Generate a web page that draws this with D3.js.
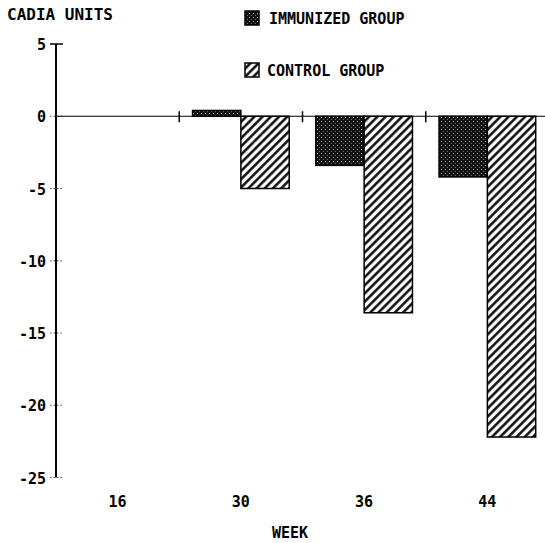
<!DOCTYPE html>
<html>
<head>
<meta charset="utf-8">
<script src="https://cdn.jsdelivr.net/npm/d3@7"></script>
<style>
  html, body { margin: 0; padding: 0; background: #fff; }
  svg text { font-family: "DejaVu Sans Mono", "Liberation Mono", monospace; font-weight: bold; fill: #000; }
</style>
</head>
<body>
<svg id="chart" width="545" height="543"></svg>
<script>
// Week groups and the change in CADIA units for each group
const weeks = ["16", "30", "36", "44"];
const immunized = [null, 0.4, -3.4, -4.2];
const control = [null, -5.0, -13.6, -22.2];
const seriesNames = ["IMMUNIZED GROUP", "CONTROL GROUP"];
const yTicks = [5, 0, -5, -10, -15, -20, -25];

const svg = d3.select("#chart");

// Fill patterns: dark stipple and diagonal hatching
const defs = svg.append("defs");
const stip = defs.append("pattern")
  .attr("id", "stipple").attr("patternUnits", "userSpaceOnUse")
  .attr("width", 4).attr("height", 4);
stip.append("rect").attr("width", 4).attr("height", 4).attr("fill", "#111");
stip.append("rect").attr("x", 1).attr("y", 1).attr("width", 1).attr("height", 1).attr("fill", "#bbb");
stip.append("rect").attr("x", 3).attr("y", 3).attr("width", 1).attr("height", 1).attr("fill", "#777");

const hatch = defs.append("pattern")
  .attr("id", "hatch").attr("patternUnits", "userSpaceOnUse")
  .attr("width", 5.8).attr("height", 10)
  .attr("patternTransform", "rotate(45)");
hatch.append("rect").attr("width", 5.8).attr("height", 10).attr("fill", "#fff");
hatch.append("line").attr("x1", 1.4).attr("x2", 1.4).attr("y1", 0).attr("y2", 10)
  .attr("stroke", "#000").attr("stroke-width", 2.4);

const fills = ["url(#stipple)", "url(#hatch)"];

// Scales
const y = d3.scaleLinear().domain([5, -25]).range([44, 477.5]);
const x0 = d3.scaleBand().domain(weeks).range([56, 549]).padding(0);
const x1 = d3.scaleBand().domain([0, 1]).range([13.3, x0.bandwidth() - 13.3]).padding(0);

// Title
svg.append("text").attr("x", 7).attr("y", 20).attr("font-size", 16).text("CADIA UNITS");

// Y axis line
svg.append("line").attr("x1", 56).attr("x2", 56).attr("y1", y(5)).attr("y2", y(-25))
  .attr("stroke", "#000").attr("stroke-width", 2);

// Y ticks and labels
const yAxis = svg.append("g");
yAxis.selectAll("line.tick").data(yTicks).join("line")
  .attr("class", "tick")
  .attr("x1", 50).attr("x2", 63)
  .attr("y1", d => y(d)).attr("y2", d => y(d))
  .attr("stroke", d => d === 5 ? "#000" : "#555")
  .attr("stroke-width", d => d === 5 ? 1.5 : 1)
  .attr("stroke-dasharray", d => d === 5 ? null : "1.5,2");
yAxis.selectAll("text").data(yTicks).join("text")
  .attr("x", 46).attr("y", d => y(d) + 6)
  .attr("text-anchor", "end").attr("font-size", 15)
  .text(d => d);

// Zero baseline with group separator ticks
svg.append("line").attr("x1", 56).attr("x2", 545).attr("y1", y(0)).attr("y2", y(0))
  .attr("stroke", "#000").attr("stroke-width", 1.2);
svg.selectAll("line.sep").data(weeks.slice(1)).join("line")
  .attr("class", "sep")
  .attr("x1", d => x0(d)).attr("x2", d => x0(d))
  .attr("y1", y(0) - 5).attr("y2", y(0) + 6)
  .attr("stroke", "#000").attr("stroke-width", 1.5);

// Bars
const rows = [];
weeks.forEach((w, i) => {
  [immunized[i], control[i]].forEach((v, s) => {
    if (v !== null) rows.push({ week: w, s, v });
  });
});
svg.selectAll("rect.bar").data(rows).join("rect")
  .attr("class", "bar")
  .attr("x", d => x0(d.week) + x1(d.s))
  .attr("width", x1.bandwidth())
  .attr("y", d => Math.min(y(0), y(d.v)))
  .attr("height", d => Math.abs(y(d.v) - y(0)))
  .attr("fill", d => fills[d.s])
  .attr("stroke", "#000").attr("stroke-width", 1.5);

// X labels
svg.selectAll("text.xl").data(weeks).join("text")
  .attr("class", "xl")
  .attr("x", d => x0(d) + x0.bandwidth() / 2)
  .attr("y", 507).attr("text-anchor", "middle").attr("font-size", 15)
  .text(d => d);
svg.append("text").attr("x", 290).attr("y", 538).attr("text-anchor", "middle")
  .attr("font-size", 15).text("WEEK");

// Legend
const legend = svg.append("g");
const legY = [11, 63];
seriesNames.forEach((name, i) => {
  legend.append("rect").attr("x", 245).attr("y", legY[i]).attr("width", 14).attr("height", 14)
    .attr("fill", fills[i]).attr("stroke", "#000").attr("stroke-width", 1.5);
  legend.append("text").attr("x", i === 0 ? 269 : 267).attr("y", legY[i] + 13)
    .attr("font-size", 15).text(name);
});
</script>
</body>
</html>
